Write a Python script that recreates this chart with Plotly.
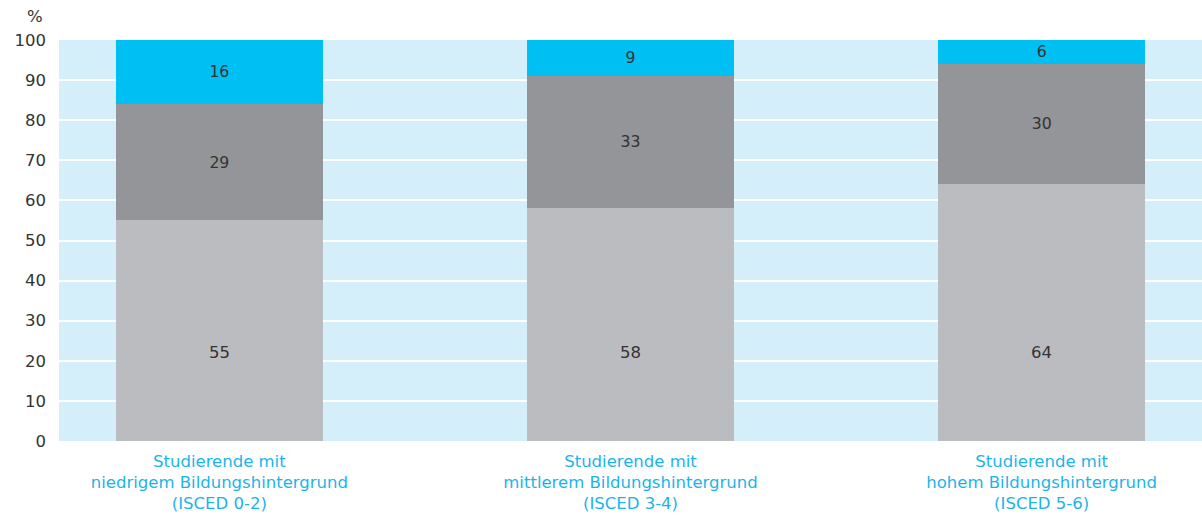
import plotly.graph_objects as go

categories = [
    "Studierende mit<br>niedrigem Bildungshintergrund<br>(ISCED 0-2)",
    "Studierende mit<br>mittlerem Bildungshintergrund<br>(ISCED 3-4)",
    "Studierende mit<br>hohem Bildungshintergrund<br>(ISCED 5-6)",
]
bottom_vals = [55, 58, 64]
middle_vals = [29, 33, 30]
top_vals = [16, 9, 6]
y_ticks = [0, 10, 20, 30, 40, 50, 60, 70, 80, 90, 100]

FONT = "DejaVu Sans, Verdana, sans-serif"
TEXT = "#333333"
x_pos = list(range(len(categories)))

fig = go.Figure()
for vals, color, show_text in [
    (bottom_vals, "#bbbcc0", False),
    (middle_vals, "#949598", True),
    (top_vals, "#00bff3", True),
]:
    fig.add_trace(go.Bar(
        x=x_pos, y=vals, marker=dict(color=color, line=dict(width=0)),
        text=[str(v) for v in vals] if show_text else None,
        textposition="inside", insidetextanchor="middle", textangle=0,
        textfont=dict(family=FONT, size=16.5, color=TEXT),
        width=0.502, showlegend=False, hoverinfo="skip",
    ))

# bottom segment labels sit at one common height in the original
for x, v in zip(x_pos, bottom_vals):
    fig.add_annotation(
        x=x, y=22, text=str(v), showarrow=False,
        font=dict(family=FONT, size=16.5, color=TEXT),
    )

fig.update_layout(
    barmode="stack",
    width=1202, height=515,
    margin=dict(l=59, r=0, t=40, b=74),
    plot_bgcolor="#d4eefa", paper_bgcolor="white",
    font=dict(family=FONT, size=16.5, color=TEXT),
    uniformtext=dict(mode="show", minsize=10),
)
fig.update_xaxes(
    range=[-0.39, 2.39], tickvals=x_pos, ticktext=categories,
    tickfont=dict(color="#1ab4ea", size=16.5), showgrid=False,
    ticks="", ticklabelstandoff=8, fixedrange=True,
)
fig.update_yaxes(
    range=[0, 100], tickvals=y_ticks, showgrid=True, gridcolor="white",
    gridwidth=2, zeroline=False, ticks="", ticklabelstandoff=12,
    tickfont=dict(color=TEXT, size=16.5), fixedrange=True,
)
fig.add_annotation(
    text="%", xref="paper", yref="paper", x=0, y=1.0,
    xshift=-24, yshift=24, xanchor="center", yanchor="middle",
    showarrow=False, font=dict(family=FONT, size=16.5, color=TEXT),
)

# drop the default 8px body margin so the figure fills the window exactly
fig.write_html(
    "out.html",
    config={"displayModeBar": False},
    post_script="document.body.style.margin='0';",
)
